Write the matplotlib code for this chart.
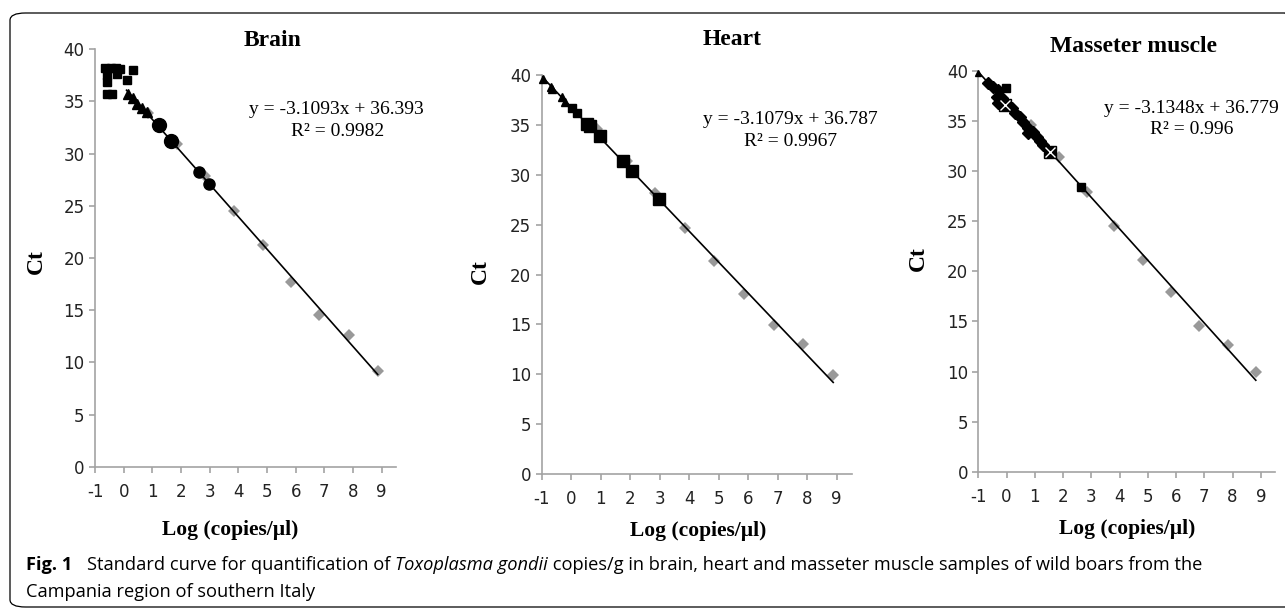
import matplotlib
matplotlib.use("Agg")
import matplotlib.pyplot as plt
from matplotlib.patches import FancyBboxPatch
import numpy as np

W, H = 1285, 609

# ---------------- data ----------------
panel_titles = ["Brain", "Heart", "Masseter muscle"]
equations = ["y = -3.1093x + 36.393", "y = -3.1079x + 36.787", "y = -3.1348x + 36.779"]
r2_texts = ["R² = 0.9982", "R² = 0.9967", "R² = 0.996"]
slopes = [-3.1093, -3.1079, -3.1348]
intercepts = [36.393, 36.787, 36.779]
fit_start = [0.10, -1.0, -1.0]
fit_end = [8.86, 8.88, 8.82]

x_ticks = [-1, 0, 1, 2, 3, 4, 5, 6, 7, 8, 9]
y_ticks = [0, 5, 10, 15, 20, 25, 30, 35, 40]

# Standards (grey diamonds)
brain_std_x = [0.85, 1.85, 2.82, 3.85, 4.85, 5.84, 6.83, 7.85, 8.86]
brain_std_y = [33.9, 30.9, 27.9, 24.5, 21.2, 17.7, 14.5, 12.6, 9.2]
heart_std_x = [0.86, 1.88, 2.85, 3.86, 4.84, 5.87, 6.87, 7.87, 8.88]
heart_std_y = [34.6, 31.4, 28.2, 24.7, 21.4, 18.05, 14.9, 13.0, 9.9]
mass_std_x = [0.85, 1.86, 2.83, 3.82, 4.83, 5.82, 6.82, 7.82, 8.82]
mass_std_y = [34.6, 31.4, 27.9, 24.55, 21.1, 17.9, 14.55, 12.65, 10.0]

# Brain samples
brain_sq_x = [-0.65, -0.45, -0.27, -0.13, -0.22, -0.59, -0.57, 0.34, 0.13, -0.58, -0.42]
brain_sq_y = [38.25, 38.25, 38.2, 38.1, 37.6, 37.5, 36.9, 38.0, 37.1, 35.7, 35.7]
brain_tri_x = [0.16, 0.31, 0.45, 0.63, 0.80]
brain_tri_y = [35.7, 35.3, 34.8, 34.4, 34.0]
brain_bigc_x = [1.24, 1.66]
brain_bigc_y = [32.7, 31.2]
brain_smc_x = [2.64, 2.99]
brain_smc_y = [28.2, 27.1]

# Heart samples
heart_tri_x = [-0.97, -0.70, -0.64, -0.32, -0.21]
heart_tri_y = [39.6, 38.8, 38.6, 37.8, 37.3]
heart_smsq_x = [0.02, 0.19]
heart_smsq_y = [36.7, 36.2]
heart_bigsq_x = [0.55, 0.64, 0.98, 1.74, 2.05, 2.98]
heart_bigsq_y = [35.1, 34.9, 33.9, 31.4, 30.4, 27.6]

# Masseter samples
mass_tri_x = [-1.0]
mass_tri_y = [39.8]
mass_dia_x = [-0.65, -0.47, -0.29, -0.35, -0.17, -0.29, 0.0, 0.18, 0.29, 0.47, 0.59, 0.76, 0.76, 0.94, 1.06, 1.18, 1.29]
mass_dia_y = [38.8, 38.4, 38.1, 37.4, 37.3, 36.8, 36.6, 36.3, 35.8, 35.4, 34.9, 34.3, 33.8, 33.9, 33.4, 33.0, 32.6]
mass_sq_x = [-0.03, 2.65]
mass_sq_y = [38.3, 28.4]
mass_x_x = [-0.06, 1.53]
mass_x_y = [36.6, 31.9]

caption_bold = "Fig. 1"
caption_pieces = [("Standard curve for quantification of ", "normal"),
                  ("Toxoplasma gondii", "italic"),
                  (" copies/g in brain, heart and masseter muscle samples of wild boars from the", "normal")]
caption_line2 = "Campania region of southern Italy"

# ---------------- layout (pixels) ----------------
axes_px = [  # left, right(xmax=9.5), y0 pixel, y40 pixel
    (95.0, 396.0, 466.7, 49.3),
    (541.7, 851.5, 474.0, 75.3),
    (978.3, 1275.0, 471.7, 71.0),
]
title_px = [(272.7, 40.0), (731.7, 39.3), (1133.3, 46.7)]
ylab_px = [(36.7, 261.7), (480.0, 271.7), (918.3, 258.3)]
xlab_px = [(230.0, 530.0), (698.3, 531.0), (1126.7, 529.3)]
eq_px = [(336.7, 110.0), (790.5, 120.0), (1191.7, 108.3)]
r2_px = [(337.7, 131.7), (791.0, 141.7), (1191.7, 130.0)]


def fx(px):
    return px / W


def fy(py):
    return 1 - py / H


AX_GREY = "#a3a3a3"
STD_GREY = "#999999"
SERIF = "Liberation Serif"
TICKFONT = "DejaVu Sans"

fig = plt.figure(figsize=(W / 100, H / 100), dpi=100)

# border box
box = FancyBboxPatch((fx(10), fy(607)), fx(1300) - fx(10), fy(13) - fy(607),
                     boxstyle="round,pad=0,rounding_size=0.012",
                     transform=fig.transFigure, fill=False, edgecolor="black",
                     linewidth=0.9, clip_on=False)
fig.patches.append(box)

std_sets = [(brain_std_x, brain_std_y), (heart_std_x, heart_std_y), (mass_std_x, mass_std_y)]

axes = []
for i in range(3):
    l, r, y0, y40 = axes_px[i]
    ax = fig.add_axes([fx(l), fy(y0), (r - l) / W, (y0 - y40) / H])
    ax.set_xlim(-1, 9.5)
    ax.set_ylim(0, 40)
    ax.set_xticks(x_ticks)
    ax.set_yticks(y_ticks)
    ax.set_xticklabels([str(t) for t in x_ticks])
    ax.set_yticklabels([str(t) for t in y_ticks])
    for s in ["top", "right"]:
        ax.spines[s].set_visible(False)
    for s in ["left", "bottom"]:
        ax.spines[s].set_color(AX_GREY)
        ax.spines[s].set_linewidth(1.2)
    ax.tick_params(axis="both", direction="out", length=4.5, width=1.2, color=AX_GREY,
                   labelsize=12, labelcolor="#222222")
    ax.tick_params(axis="x", pad=7)
    ax.tick_params(axis="y", pad=3)
    for lab in ax.get_xticklabels() + ax.get_yticklabels():
        lab.set_fontfamily(TICKFONT)
    ax.patch.set_alpha(0)

    sx, sy = std_sets[i]
    ax.plot(sx, sy, linestyle="none", marker="D", markersize=6.5, color=STD_GREY,
            markeredgewidth=0, zorder=2, clip_on=False)
    lx = np.array([fit_start[i], fit_end[i]])
    ax.plot(lx, slopes[i] * lx + intercepts[i], color="black", linewidth=1.2, zorder=3)

    fig.text(fx(title_px[i][0]), fy(title_px[i][1]), panel_titles[i], ha="center", va="center",
             fontsize=17, fontweight="bold", family=SERIF)
    fig.text(fx(ylab_px[i][0]), fy(ylab_px[i][1]), "Ct", ha="center", va="center", rotation=90,
             fontsize=17, fontweight="bold", family=SERIF)
    fig.text(fx(xlab_px[i][0]), fy(xlab_px[i][1]), "Log (copies/µl)", ha="center", va="center",
             fontsize=15.5, fontweight="bold", family=SERIF)
    fig.text(fx(eq_px[i][0]), fy(eq_px[i][1]), equations[i], ha="center", va="center",
             fontsize=14, family=SERIF)
    fig.text(fx(r2_px[i][0]), fy(r2_px[i][1]), r2_texts[i], ha="center", va="center",
             fontsize=14, family=SERIF)
    axes.append(ax)

kw = dict(linestyle="none", color="black", zorder=4, clip_on=False)
a0, a1, a2 = axes
# Brain
a0.plot(brain_sq_x, brain_sq_y, marker="s", markersize=6, **kw)
a0.plot(brain_tri_x, brain_tri_y, marker="^", markersize=6.5, **kw)
a0.plot(brain_bigc_x, brain_bigc_y, marker="o", markersize=10, **kw)
a0.plot(brain_smc_x, brain_smc_y, marker="o", markersize=8, **kw)
# Heart
a1.plot(heart_tri_x, heart_tri_y, marker="^", markersize=6, **kw)
a1.plot(heart_smsq_x, heart_smsq_y, marker="s", markersize=6, **kw)
a1.plot(heart_bigsq_x, heart_bigsq_y, marker="s", markersize=9, **kw)
# Masseter
a2.plot(mass_tri_x, mass_tri_y, marker="^", markersize=5, **kw)
a2.plot(mass_dia_x, mass_dia_y, marker="D", markersize=6.5, **kw)
a2.plot(mass_sq_x, mass_sq_y, marker="s", markersize=6, **kw)
a2.plot(mass_x_x, mass_x_y, marker="s", markersize=8, **kw)
a2.plot(mass_x_x, mass_x_y, marker="x", markersize=7, linestyle="none", color="white",
        markeredgewidth=1.0, zorder=5, clip_on=False)

# Caption
CAP = "Open Sans"
cap_size = 13.15
t0 = fig.text(fx(25.7), fy(565), caption_bold, ha="left", va="center", fontsize=cap_size,
              fontweight="bold", family=CAP)
prev = t0
first = True
for txt, style in caption_pieces:
    off = 11 if first else 0
    first = False
    prev = a0.annotate(txt, xy=(1, 0), xycoords=prev, xytext=(off, 0), textcoords="offset points",
                       va="bottom", ha="left", fontsize=cap_size, style=style, family=CAP,
                       annotation_clip=False)
fig.text(fx(25.7), fy(591.7), caption_line2, ha="left", va="center",
         fontsize=cap_size, family=CAP)

fig.savefig("out.png", dpi=100)
